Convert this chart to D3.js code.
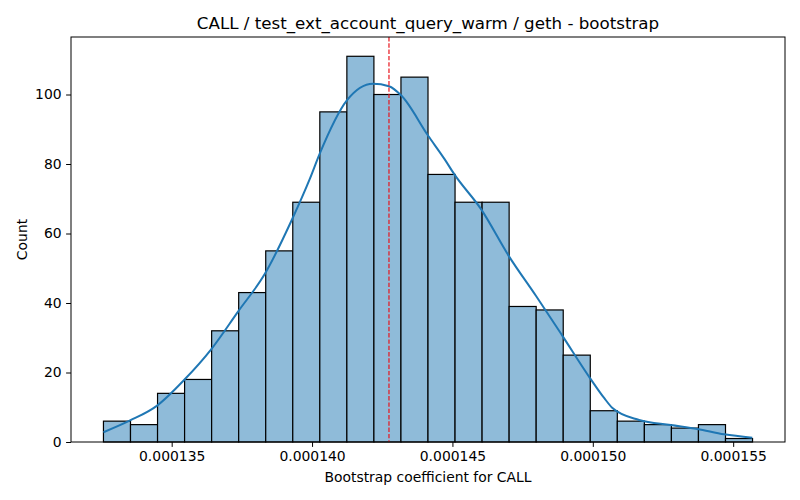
<!DOCTYPE html>
<html>
<head>
<meta charset="utf-8">
<script src="https://cdn.jsdelivr.net/npm/d3@7"></script>
<style>
  body { margin: 0; background: #fff; }
  text { font-family: "DejaVu Sans", sans-serif; fill: #000; }
</style>
</head>
<body>
<svg id="drawing_region"></svg>
<script>
// histogram counts, 24 equal bins between binStart and binEnd
const counts = [6, 5, 14, 18, 32, 43, 55, 69, 95, 111, 100, 105, 77, 69, 69, 39, 38, 25, 9, 6, 5, 4, 5, 1];
const binStart = 0.00013257;
const binEnd = 0.00015569;

// kde curve
const kdeX = [0.00013257, 0.00013352, 0.00013447, 0.00013545, 0.00013640, 0.00013737, 0.00013832,
              0.00013929, 0.00013992, 0.00014027, 0.00014124, 0.00014217, 0.00014274, 0.00014318,
              0.00014413, 0.00014472, 0.00014507, 0.00014602, 0.00014701, 0.00014798, 0.00014893,
              0.00014990, 0.00015041, 0.00015070, 0.00015165, 0.00015278, 0.00015373, 0.00015468, 0.00015568];
const kdeY = [2.8, 6.2, 10.4, 17.9, 26.6, 37.6, 48.4,
              64.1, 75.7, 82.9, 98.3, 103.1, 102.4, 99.7,
              88.2, 81.4, 77.0, 67.0, 53.5, 42.0, 30.4,
              18.4, 12.6, 9.8, 6.35, 4.9, 3.75, 2.2, 1.25];

const meanValue = 0.00014274;

const xTicks = [0.000135, 0.000140, 0.000145, 0.000150, 0.000155];
const yTicks = [0, 20, 40, 60, 80, 100];

const title = "CALL / test_ext_account_query_warm / geth - bootstrap";
const xLabel = "Bootstrap coefficient for CALL";
const yLabel = "Count";

const config = {
    width: 800,
    height: 500,
    margin: {top: 37, right: 15, bottom: 58, left: 71}
};

const svg = d3.select('#drawing_region')
    .attr('width', config.width)
    .attr('height', config.height);

const inner_width = config.width - config.margin.left - config.margin.right;
const inner_height = config.height - config.margin.top - config.margin.bottom;

const chart = svg.append('g')
    .attr('transform', `translate(${config.margin.left}, ${config.margin.top})`);

const binWidth = (binEnd - binStart) / counts.length;
const bins = counts.map((c, i) => ({x0: binStart + i * binWidth, x1: binStart + (i + 1) * binWidth, count: c}));

const pad = (binEnd - binStart) * 0.05;
const xscale = d3.scaleLinear()
    .domain([binStart - pad, binEnd + pad])
    .range([0, inner_width]);

const yscale = d3.scaleLinear()
    .domain([0, d3.max(counts) * 1.05])
    .range([inner_height, 0]);

// bars
chart.selectAll('rect.bar')
    .data(bins)
    .enter()
    .append('rect')
    .attr('class', 'bar')
    .attr('x', d => xscale(d.x0))
    .attr('y', d => yscale(d.count))
    .attr('width', d => xscale(d.x1) - xscale(d.x0))
    .attr('height', d => yscale(0) - yscale(d.count))
    .attr('fill', '#8fbbd9')
    .attr('stroke', '#000')
    .attr('stroke-width', 1.2);

// kde
const line = d3.line()
    .x(d => xscale(d[0]))
    .y(d => yscale(d[1]))
    .curve(d3.curveMonotoneX);

chart.append('path')
    .datum(kdeX.map((x, i) => [x, kdeY[i]]))
    .attr('d', line)
    .attr('fill', 'none')
    .attr('stroke', '#1f77b4')
    .attr('stroke-width', 2);

// mean line
chart.append('line')
    .attr('x1', xscale(meanValue))
    .attr('x2', xscale(meanValue))
    .attr('y1', 0)
    .attr('y2', inner_height)
    .attr('stroke', '#e8141c')
    .attr('stroke-width', 1.2)
    .attr('stroke-dasharray', '4.4,1.9');

// axes
const xaxis = d3.axisBottom(xscale)
    .tickValues(xTicks)
    .tickFormat(d3.format('.6f'))
    .tickSizeInner(4.9)
    .tickSizeOuter(0)
    .tickPadding(4.5);

const yaxis = d3.axisLeft(yscale)
    .tickValues(yTicks)
    .tickSizeInner(4.9)
    .tickSizeOuter(0)
    .tickPadding(4.5);

const xaxis_group = chart.append('g')
    .attr('transform', `translate(0, ${inner_height})`)
    .call(xaxis);

const yaxis_group = chart.append('g')
    .call(yaxis);

[xaxis_group, yaxis_group].forEach(g => {
    g.select('.domain').remove();
    g.selectAll('.tick line').attr('stroke', '#000').attr('stroke-width', 1);
    g.selectAll('.tick text')
        .attr('font-family', '"DejaVu Sans", sans-serif')
        .attr('font-size', 13.9)
        .attr('fill', '#000');
});

// frame
chart.append('rect')
    .attr('x', 0)
    .attr('y', 0)
    .attr('width', inner_width)
    .attr('height', inner_height)
    .attr('fill', 'none')
    .attr('stroke', '#000')
    .attr('stroke-width', 1);

// texts
svg.append('text')
    .attr('x', config.margin.left + inner_width / 2)
    .attr('y', 29)
    .attr('text-anchor', 'middle')
    .attr('font-size', 16.7)
    .text(title);

svg.append('text')
    .attr('x', config.margin.left + inner_width / 2)
    .attr('y', 482)
    .attr('text-anchor', 'middle')
    .attr('font-size', 13.9)
    .text(xLabel);

svg.append('text')
    .attr('transform', `translate(27, ${config.margin.top + inner_height / 2}) rotate(-90)`)
    .attr('text-anchor', 'middle')
    .attr('font-size', 13.9)
    .text(yLabel);
</script>
</body>
</html>
